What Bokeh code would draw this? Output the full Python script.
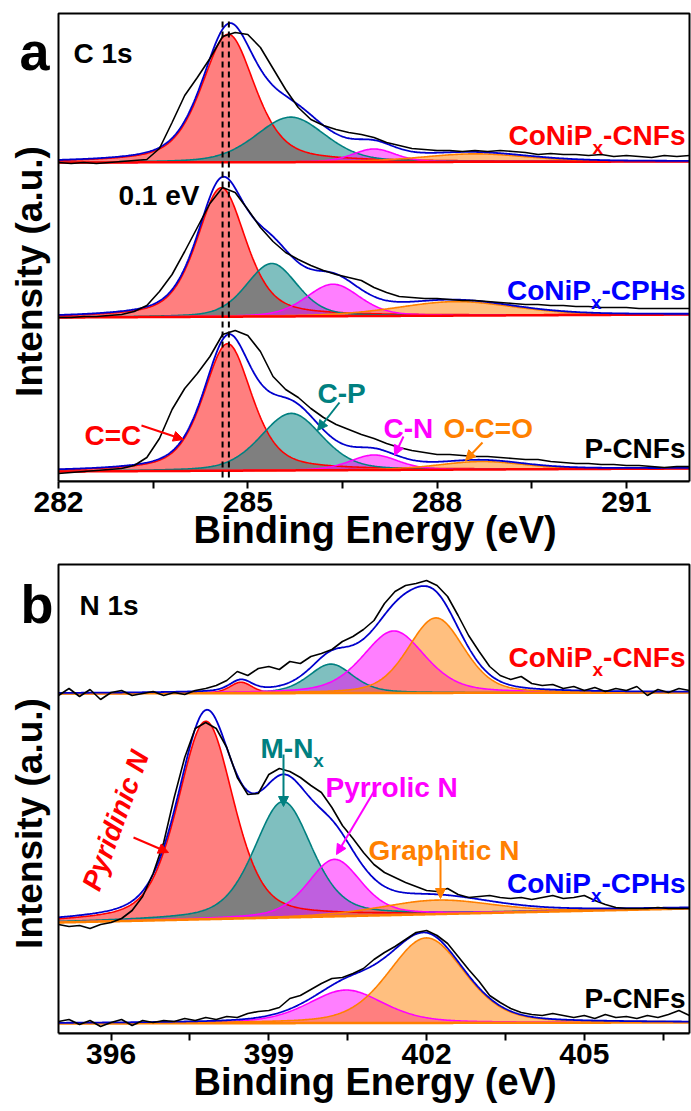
import numpy as np
from bokeh.plotting import figure
from bokeh.layouts import column
from bokeh.models import Range1d, FixedTicker, Label, Arrow, NormalHead, Title
from bokeh.embed import file_html
from bokeh.resources import INLINE

FONT = "Liberation Sans"
RED, TEAL, MAGENTA, ORANGE = "#FF0000", "#008080", "#FF00FF", "#FF8000"
BLUE_TXT, BLUE_LINE = "#0000FF", "#0000CD"
COMP_COLORS = [RED, TEAL, MAGENTA, ORANGE]
X_TITLE = "Binding Energy (eV)"

# ---------------- panel a : C 1s ----------------
C1S_SAMPLES = ["CoNiPx-CNFs", "CoNiPx-CPHs", "P-CNFs"]
C1S_COMPONENTS = ["C=C", "C-P", "C-N", "O-C=O"]
C1S_OFFSET = [319, 164, 10]
C1S_BG_RISE = [1, 3, 3]
C1S_CENTER = [[284.69, 285.68, 287.0, 288.6],
              [284.58, 285.38, 286.35, 288.3],
              [284.68, 285.69, 287.0, 288.7]]
C1S_HEIGHT = [[128, 45, 13, 8],
              [129, 53, 32, 14],
              [127, 57, 15, 8]]
C1S_FWHM = [[1.0, 1.3, 0.8, 2.0],
            [0.92, 0.95, 1.0, 2.2],
            [0.91, 1.15, 0.9, 1.6]]
C1S_ETA = [0.5, 0.3, 0.3, 0.3]
C1S_ENERGY = [round(282.0 + 0.2 * i, 1) for i in range(51)]
C1S_RAW_CNFS = [0, -1, 0, -1, 0, 1, 2, 3, 14, 40,
                67, 85, 104, 126, 130, 128, 115, 94, 73, 55,
                43, 37, 33, 30, 28, 25, 20, 17, 14, 13,
                12, 12, 11, 12, 11, 12, 11, 10, 8, 9,
                8, 8, 7, 8, 6, 7, 6, 5, 7, 6, 7]
C1S_RAW_CPHS = [0, 0, 1, 1, 2, 3, 6, 12, 26, 43,
                66, 90, 114, 130, 125, 108, 90, 76, 65, 58,
                52, 47, 43, 40, 37, 30, 25, 21, 20, 19,
                19, 18, 17, 17, 16, 15, 14, 13, 13, 12,
                12, 11, 11, 10, 10, 10, 9, 9, 9, 9, 9]
C1S_RAW_PCNFS = [-2, -1, 0, 1, 2, 3, 6, 14, 33, 62,
                 83, 98, 115, 137, 141, 136, 120, 95, 82, 74,
                 63, 54, 47, 42, 37, 33, 28, 24, 21, 19,
                 17, 17, 16, 15, 15, 14, 13, 12, 12, 10,
                 9, 8, 8, 7, 7, 6, 6, 5, 4, 5, 5]
C1S_DASH_E = [284.6, 284.7]
C1S_TICKS = [282, 285, 288, 291]
C1S_MINOR = [283.5, 286.5, 289.5]

# ---------------- panel b : N 1s ----------------
N1S_SAMPLES = ["CoNiPx-CNFs", "CoNiPx-CPHs", "P-CNFs"]
N1S_COMPONENTS = ["Pyridinic N", "M-Nx", "Pyrrolic N", "Graphitic N"]
N1S_OFFSET = [340, 111, 10]
N1S_BG_RISE = [1, 14, 1]
N1S_CENTER = [[398.47, 400.18, 401.38, 402.18],
              [397.80, 399.27, 400.25, 402.2],
              [398.0, 399.3, 400.47, 402.0]]
N1S_HEIGHT = [[11, 29, 62, 75],
              [198, 116, 57, 14],
              [0, 0, 33, 85]]
N1S_FWHM = [[0.5, 1.0, 1.4, 1.25],
            [1.25, 1.3, 1.2, 2.5],
            [1.0, 1.0, 1.7, 1.7]]
N1S_ETA = [0.4, 0.4, 0.4, 0.3]
N1S_ENERGY = [round(395.0 + 0.2 * i, 1) for i in range(61)]
N1S_RAW_CNFS = [-2, 5, -3, 4, -6, 1, 3, -2, 0, 2,
                -2, 1, -1, 3, 5, 8, 13, 22, 18, 25,
                27, 24, 32, 30, 37, 40, 44, 52, 57, 64,
                73, 90, 102, 108, 110, 113, 108, 97, 78, 58,
                42, 27, 18, 14, 17, 10, 8, 9, 5, 7,
                3, 6, 2, 5, 3, 7, -2, 4, 1, 5, 3]
N1S_RAW_CPHS = [-2, -4, -3, -6, -2, 0, 4, 12, 26, 49,
                80, 125, 165, 194, 200, 194, 175, 145, 128, 129,
                148, 154, 151, 145, 137, 130, 115, 97, 84, 70,
                58, 50, 45, 40, 36, 32, 31, 34, 28, 25,
                26, 27, 25, 24, 25, 23, 25, 27, 24, 25,
                27, 22, 18, 15, 14, 14, 14, 15, 14, 14, 14]
N1S_RAW_PCNFS = [2, 4, -1, 3, -3, 1, 4, -2, 3, 1,
                 3, 2, 5, 3, 6, 4, 7, 6, 10, 12,
                 13, 16, 25, 28, 34, 40, 45, 46, 50, 55,
                 64, 71, 77, 84, 91, 93, 88, 80, 67, 54,
                 42, 28, 21, 15, 11, 9, 8, 10, 8, 6,
                 8, 5, 9, 6, 7, 5, 8, 6, 9, 13, 8]
N1S_TICKS = [396, 399, 402, 405]
N1S_MINOR = [397.5, 400.5, 403.5, 406.5]

CHAR_W = {'C': .722, 'o': .611, 'N': .722, 'i': .278, 'P': .667, '-': .333,
          'F': .611, 's': .556, 'H': .722, 'x': .556, 'M': .833}


def tw(s, size):
    return sum(CHAR_W.get(c, .6) for c in s) * size


def pv(E, c, h, w, eta):
    x = (E - c) / w
    return h * (eta / (1 + 4 * x ** 2) + (1 - eta) * np.exp(-4 * np.log(2) * x ** 2))


def make_fig(xr, box_x, yr, height, bottom, ticks, minor):
    p = figure(width=691, height=height, x_range=Range1d(*xr), y_range=Range1d(*yr),
               output_backend="svg", toolbar_location=None,
               min_border_left=0, min_border_right=0, min_border_top=0,
               min_border_bottom=bottom)
    p.grid.visible = False
    p.outline_line_color = None
    p.background_fill_color = "white"
    p.border_fill_color = "white"
    p.yaxis.visible = False
    xa = p.xaxis[0]
    xa.bounds = box_x
    xa.ticker = FixedTicker(ticks=ticks, minor_ticks=minor)
    xa.major_tick_in = 0
    xa.major_tick_out = 7
    xa.minor_tick_in = 0
    xa.minor_tick_out = 7
    xa.major_tick_line_width = 2
    xa.minor_tick_line_width = 2
    xa.axis_line_width = 2
    xa.major_label_text_font = FONT
    xa.major_label_text_font_size = "30px"
    xa.major_label_text_font_style = "bold"
    xa.major_label_text_color = "black"
    xa.major_label_standoff = 3
    p.add_layout(Title(text=X_TITLE, align="left", offset=193, vertical_align="top",
                       standoff=-12, text_font=FONT, text_font_size="38px",
                       text_font_style="bold", text_color="black"), "below")
    return p


def draw_box(p, box_x, box_top):
    p.quad(left=box_x[0], right=box_x[1], bottom=0, top=box_top,
           fill_color=None, line_color="black", line_width=2)


def draw_spectra(p, xr, energy, raws, offs, rises, centers, heights, fwhms, etas, base_color):
    Ef = np.linspace(xr[0], xr[1], 601)
    for i in range(3):
        bg = offs[i] + rises[i] * (Ef - xr[0]) / (xr[1] - xr[0])
        comps = [pv(Ef, centers[i][k], heights[i][k], fwhms[i][k], etas[k])
                 for k in range(4)]
        for k in range(4):
            if heights[i][k] > 0:
                p.varea(x=Ef, y1=bg, y2=bg + comps[k], fill_color=COMP_COLORS[k], fill_alpha=0.5)
        for k in range(4):
            if heights[i][k] > 0:
                p.line(Ef, bg + comps[k], line_color=COMP_COLORS[k], line_width=1.6)
        p.line(Ef, bg, line_color=base_color, line_width=2.5)
        p.line(Ef, bg + sum(comps), line_color=BLUE_LINE, line_width=1.8)
        p.line(energy, offs[i] + np.array(raws[i], dtype=float), line_color="black", line_width=1.6)


def lab(p, x, y, text, color="black", size=28, align="left", baseline="alphabetic",
        angle=0, style="bold"):
    p.add_layout(Label(x=x, y=y, text=text, text_color=color, text_font=FONT,
                       text_font_size=f"{size}px", text_font_style=style,
                       text_align=align, text_baseline=baseline,
                       angle=angle, angle_units="deg"))


def arrow(p, x0, y0, x1, y1, color):
    p.add_layout(Arrow(end=NormalHead(size=10, fill_color=color, line_color=color, line_width=1),
                       x_start=x0, y_start=y0, x_end=x1, y_end=y1,
                       line_color=color, line_width=2))


def sample_label(p, cx, cy, right_px, base_py, text, color):
    if "x-" in text:
        main, tail = text.split("x", 1)
        x_tail = right_px - tw(tail, 28)
        x_sub = x_tail - tw("x", 19)
        lab(p, cx(x_tail), cy(base_py), tail, color)
        lab(p, cx(x_sub), cy(base_py + 12), "x", color, size=19)
        lab(p, cx(x_sub), cy(base_py), main, color, align="right")
    else:
        lab(p, cx(right_px), cy(base_py), text, color, align="right")


# ---------- panel a ----------
def ax(px):
    return 282 + (px - 58) / 63.1


def ay(py):
    return 481 - py


XA = (282, 292)
pa = make_fig((ax(0), ax(691)), XA, (0, 481), 562, 81, C1S_TICKS, C1S_MINOR)
draw_spectra(pa, XA, C1S_ENERGY, [C1S_RAW_CNFS, C1S_RAW_CPHS, C1S_RAW_PCNFS],
             C1S_OFFSET, C1S_BG_RISE, C1S_CENTER, C1S_HEIGHT, C1S_FWHM, C1S_ETA, RED)
pa.segment(x0=C1S_DASH_E, y0=[4, 4], x1=C1S_DASH_E, y1=[464, 464],
           line_color="black", line_width=2, line_dash="6 4")
draw_box(pa, XA, 468)

lab(pa, ax(19), ay(50), "a", size=54)
lab(pa, ax(29), ay(271), "Intensity (a.u.)", size=37, align="center", baseline="middle", angle=90)
lab(pa, ax(73), ay(53), "C 1s")
lab(pa, ax(118), ay(195), "0.1 eV")
sample_label(pa, ax, ay, 685, 135, C1S_SAMPLES[0], RED)
sample_label(pa, ax, ay, 685, 290, C1S_SAMPLES[1], BLUE_TXT)
sample_label(pa, ax, ay, 685, 448, C1S_SAMPLES[2], "black")
lab(pa, ax(84), ay(435), C1S_COMPONENTS[0], RED)
lab(pa, ax(317), ay(393), C1S_COMPONENTS[1], TEAL)
lab(pa, ax(383), ay(428), C1S_COMPONENTS[2], MAGENTA)
lab(pa, ax(443), ay(428), C1S_COMPONENTS[3], ORANGE)
arrow(pa, ax(141), ay(425), ax(183), ay(439), RED)
arrow(pa, ax(339), ay(402), ax(317), ay(430), TEAL)
arrow(pa, ax(403), ay(436), ax(394), ay(455), MAGENTA)
arrow(pa, ax(482), ay(442), ax(465), ay(460), ORANGE)


# ---------- panel b ----------
def bx(px):
    return 395 + (px - 58) / 52.58


def by(py):
    return 1033 - py


XB = (395, 407)
pb = make_fig((bx(0), bx(691)), XB, (0, 471), 549, 78, N1S_TICKS, N1S_MINOR)
draw_spectra(pb, XB, N1S_ENERGY, [N1S_RAW_CNFS, N1S_RAW_CPHS, N1S_RAW_PCNFS],
             N1S_OFFSET, N1S_BG_RISE, N1S_CENTER, N1S_HEIGHT, N1S_FWHM, N1S_ETA, ORANGE)
draw_box(pb, XB, 469)

lab(pb, bx(20), by(603), "b", size=54)
lab(pb, bx(29), by(823), "Intensity (a.u.)", size=37, align="center", baseline="middle", angle=90)
lab(pb, bx(79), by(605), "N 1s")
sample_label(pb, bx, by, 685, 657, N1S_SAMPLES[0], RED)
sample_label(pb, bx, by, 685, 883, N1S_SAMPLES[1], BLUE_TXT)
sample_label(pb, bx, by, 685, 998, N1S_SAMPLES[2], "black")
lab(pb, bx(115), by(820), N1S_COMPONENTS[0], RED, align="center", baseline="middle",
    angle=70, style="bold italic")
lab(pb, bx(260), by(748), "M-N", TEAL)
lab(pb, bx(260 + tw("M-N", 28)), by(760), "x", TEAL, size=19)
lab(pb, bx(325), by(787), N1S_COMPONENTS[2], MAGENTA)
lab(pb, bx(368), by(850), N1S_COMPONENTS[3], ORANGE)
arrow(pb, bx(133), by(837), bx(168), by(852), RED)
arrow(pb, bx(283), by(754), bx(283), by(806), TEAL)
arrow(pb, bx(374), by(790), bx(336), by(854), MAGENTA)
arrow(pb, bx(440), by(855), bx(440), by(898), ORANGE)

layout = column(pa, pb)
open("out.html", "w").write(file_html(layout, INLINE))
